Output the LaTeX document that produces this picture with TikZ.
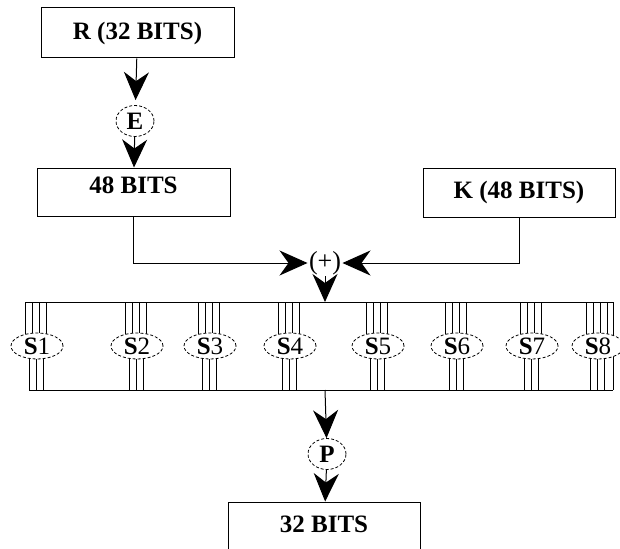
\documentclass[tikz,border=0pt]{standalone}
\usepackage{fontspec}
\setmainfont{Liberation Serif}
\usetikzlibrary{arrows.meta,shapes.geometric}
\begin{document}
\begin{tikzpicture}[
  x=1pt, y=-1pt,
  line width=1pt,
  box/.style={draw, rectangle, inner sep=0pt, font=\fontsize{25}{30}\selectfont\bfseries},
  perm/.style={draw, ellipse, densely dashed, line width=0.8pt, fill=white, inner sep=0pt,
    minimum width=38pt, minimum height=31pt, font=\fontsize{25}{28}\selectfont\bfseries},
  sbox/.style={draw, ellipse, densely dashed, line width=0.8pt, fill=white, inner sep=0pt,
    minimum width=52pt, minimum height=26pt, font=\fontsize{25}{28}\selectfont},
  flow/.style={-{Stealth[length=28pt, width=25pt, inset=9pt]}}
]
\useasboundingbox (0,0) rectangle (620,548);
\clip (0,0) rectangle (620,548);

% boxes and permutations
\node[box, minimum width=193pt, minimum height=50pt] (r) at (137.5,33) {R (32 BITS)};
\node[perm] (e) at (135,121) {E};
\node[box, minimum width=193pt, minimum height=48pt, text depth=14pt] (b48) at (133.5,192) {48 BITS};
\node[box, minimum width=192pt, minimum height=49pt] (k) at (519,192.5) {K (48 BITS)};
\node[inner sep=1pt, font=\fontsize{26}{28}\selectfont] (xor) at (325,263) {(+)};
\coordinate (bartop) at (325,302);
\coordinate (barbot) at (325,390);
\node[perm] (p) at (327,454) {P};
\node[box, minimum width=192pt, minimum height=58pt, text depth=14pt] (b32) at (324,531) {32 BITS};

% S-box bar
\draw (25,302) -- (613,302);
\draw (29,390) -- (613,390);
\draw (613,302) -- (613,390);
\foreach \sx [count=\i] in {37,137,210,290,378,457,532,598} {
  \foreach \dx in {-12,-5,2,9}
    \draw (\sx+\dx,302) -- (\sx+\dx,346);
  \foreach \dx in {-8,-1,6}
    \draw (\sx+\dx,346) -- (\sx+\dx,390);
  \node[sbox] (s\i) at (\sx,346) {\textbf{S}\i};
}

% connectors
\draw[flow, shorten >=5pt] (r) -- (e);
\draw[flow] (e) -- (b48);
\draw[flow] (b48.south) |- (xor.west);
\draw[flow] (k.south) |- (xor.east);
\draw[flow] (xor) -- (bartop);
\draw[flow] (barbot) -- (p);
\draw[flow] (p) -- (b32);
\end{tikzpicture}
\end{document}
